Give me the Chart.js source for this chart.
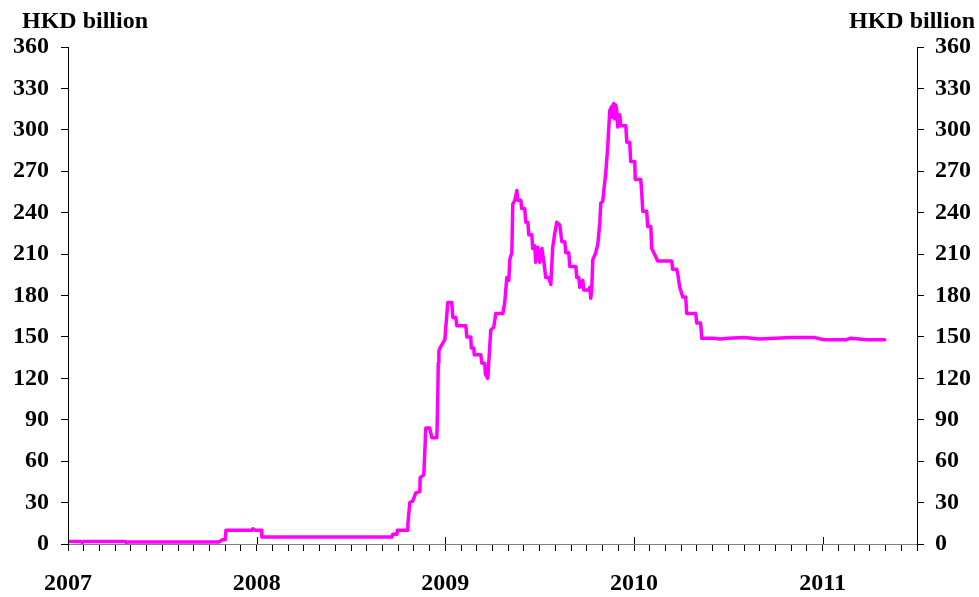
<!DOCTYPE html>
<html>
<head>
<meta charset="utf-8">
<script src="https://cdn.jsdelivr.net/npm/chart.js@4/dist/chart.umd.min.js"></script>
<style>
  html, body { margin: 0; padding: 0; background: #fff; }
  #wrap { position: relative; width: 979px; height: 597px; }
</style>
</head>
<body>
<div id="wrap"><canvas id="c" width="979" height="597"></canvas></div>
<script>
// ---- DATA ----
// time position in months since January 2007
const monthsSince2007 = [
  0, 0.85, 0.9, 1.0, 3.65, 3.7, 3.8, 9.6, 9.8, 10.0, 10.05, 11.7, 11.76, 11.9, 12.3, 12.33,
  20.6, 20.66, 20.92, 20.95, 21.6, 21.62, 21.74, 21.93, 22.12, 22.38, 22.4, 22.63, 22.76, 23.01,
  23.14, 23.46, 23.52, 23.55, 23.59, 23.71, 23.97, 24.03, 24.16, 24.41, 24.48, 24.67, 24.73, 25.30,
  25.37, 25.62, 25.65, 25.81, 25.84, 26.26, 26.32, 26.51, 26.55, 26.70, 26.89, 27.08, 27.21, 27.66,
  27.78, 27.91, 28.04, 28.10, 28.23, 28.29, 28.42, 28.55, 28.61, 28.80, 28.86, 29.05, 29.12, 29.25,
  29.31, 29.50, 29.56, 29.69, 29.75, 29.88, 30.01, 30.14, 30.26, 30.39, 30.58, 30.71, 30.83, 30.96,
  31.09, 31.28, 31.41, 31.60, 31.66, 31.85, 31.92, 32.30, 32.36, 32.49, 32.55, 32.74, 32.81, 33.12,
  33.19, 33.25, 33.31, 33.38, 33.57, 33.70, 33.82, 33.89, 34.01, 34.08, 34.20, 34.33, 34.46, 34.59,
  34.65, 34.71, 34.78, 34.84, 34.90, 34.97, 35.09, 35.16, 35.48, 35.54, 35.73, 35.79, 36.05, 36.08,
  36.43, 36.49, 36.56, 36.81, 36.87, 37.07, 37.13, 37.26, 37.51, 38.40, 38.46, 38.72, 38.78, 38.91,
  39.10, 39.29, 39.35, 39.93, 39.99, 40.24, 40.31, 41.0, 41.5, 42.0, 43.0, 44.0, 45.0, 46.0,
  47.5, 48.1, 49.5, 49.8, 50.3, 50.8, 51.94
];
// balance, HKD billion
const balanceHKDbn = [
  1.8, 1.8, 1.0, 1.8, 1.8, 1.0, 1.5, 1.5, 3, 3, 10, 10, 11, 10, 10, 5,
  5, 7, 7, 10, 10, 15, 30, 31, 37, 38, 48, 50, 84, 84,
  77, 77, 106, 131, 140, 143, 148, 157, 175, 175, 164, 164, 158, 158,
  150, 150, 142, 142, 137, 137, 131, 131, 123, 120, 155, 157, 167, 167,
  175, 193, 191, 206, 211, 246, 249, 256, 249, 249, 243, 243, 233, 233,
  224, 224, 214, 216, 204, 215, 204, 214, 205, 193, 193, 188, 215, 225,
  233, 231, 219, 219, 211, 211, 201, 201, 193, 193, 186, 191, 184, 184,
  186, 178, 184, 206, 211, 217, 232, 247, 248, 256, 268, 288, 314, 317,
  309, 319, 308, 318, 314, 302, 311, 303, 303, 291, 291, 277, 277, 264,
  264, 255, 241, 241, 230, 230, 214, 211, 205, 205, 199, 199, 196, 186,
  179, 179, 167, 167, 160, 160, 149, 149, 148.5, 149, 149.5, 148.5, 149, 149.5,
  149.5, 148, 148, 149, 148.5, 148, 148
];
const yearLabels = ['2007', '2008', '2009', '2010', '2011'];
const yTickValues = [0, 30, 60, 90, 120, 150, 180, 210, 240, 270, 300, 330, 360];
const unitLabel = 'HKD billion';

// ---- CHART ----
const FONT = { family: "'Liberation Serif', 'Times New Roman', serif", size: 24, weight: 'bold' };

const points = monthsSince2007.map((m, i) => ({ x: m, y: balanceHKDbn[i] }));

const extras = {
  id: 'extras',
  afterDraw(chart) {
    const ctx = chart.ctx;
    const xs = chart.scales.x;
    const area = chart.chartArea;
    ctx.save();
    ctx.strokeStyle = '#000';
    ctx.lineWidth = 1;
    yearLabels.forEach((_, i) => {
      const px = Math.round(xs.getPixelForValue(i * 12)) + 0.5;
      ctx.beginPath();
      ctx.moveTo(px, area.bottom - 7);
      ctx.lineTo(px, area.bottom);
      ctx.stroke();
    });
    ctx.fillStyle = '#000';
    ctx.font = `bold ${FONT.size}px ${FONT.family}`;
    ctx.textBaseline = 'alphabetic';
    ctx.textAlign = 'left';
    ctx.fillText(unitLabel, 22, 28);
    ctx.textAlign = 'right';
    ctx.fillText(unitLabel, 975, 28);
    ctx.restore();
  }
};

const yCommon = {
  type: 'linear',
  min: 0,
  max: 360,
  afterBuildTicks(scale) { scale.ticks = yTickValues.map(v => ({ value: v })); },
  ticks: { font: FONT, color: '#000', padding: 11 },
  grid: { drawOnChartArea: false, drawTicks: true, tickLength: 7, color: '#000', tickColor: '#000' },
  border: { display: true, color: '#000', width: 1 }
};

new Chart(document.getElementById('c'), {
  type: 'line',
  data: {
    datasets: [{
      data: points,
      borderColor: '#FF00FF',
      borderWidth: 3.5,
      borderJoinStyle: 'round',
      borderCapStyle: 'round',
      pointRadius: 0,
      tension: 0,
      fill: false,
      yAxisID: 'y'
    }]
  },
  options: {
    responsive: false,
    animation: false,
    events: [],
    layout: { padding: { top: 47, left: 0, right: 0, bottom: 0 } },
    plugins: { legend: { display: false }, tooltip: { enabled: false }, title: { display: false } },
    scales: {
      x: {
        type: 'linear',
        position: 'bottom',
        min: 0,
        max: 54,
        afterBuildTicks(scale) {
          const t = [];
          for (let m = 0; m <= 54; m++) t.push({ value: m });
          scale.ticks = t;
        },
        ticks: {
          autoSkip: false,
          maxRotation: 0,
          font: FONT,
          color: '#000',
          padding: 18,
          callback: (v) => (v % 12 === 0 ? yearLabels[v / 12] : '')
        },
        grid: { drawOnChartArea: false, drawTicks: true, tickLength: 7, tickColor: '#000', color: '#000' },
        border: { display: true, color: '#808080', width: 1 },
        afterFit(scale) { scale.height = 53; }
      },
      y: Object.assign({}, yCommon, {
        position: 'left',
        ticks: Object.assign({}, yCommon.ticks, { padding: 12 }),
        afterFit(scale) { scale.width = 68; }
      }),
      y2: Object.assign({}, yCommon, {
        position: 'right',
        afterFit(scale) { scale.width = 62; }
      })
    }
  },
  plugins: [extras]
});
</script>
</body>
</html>
